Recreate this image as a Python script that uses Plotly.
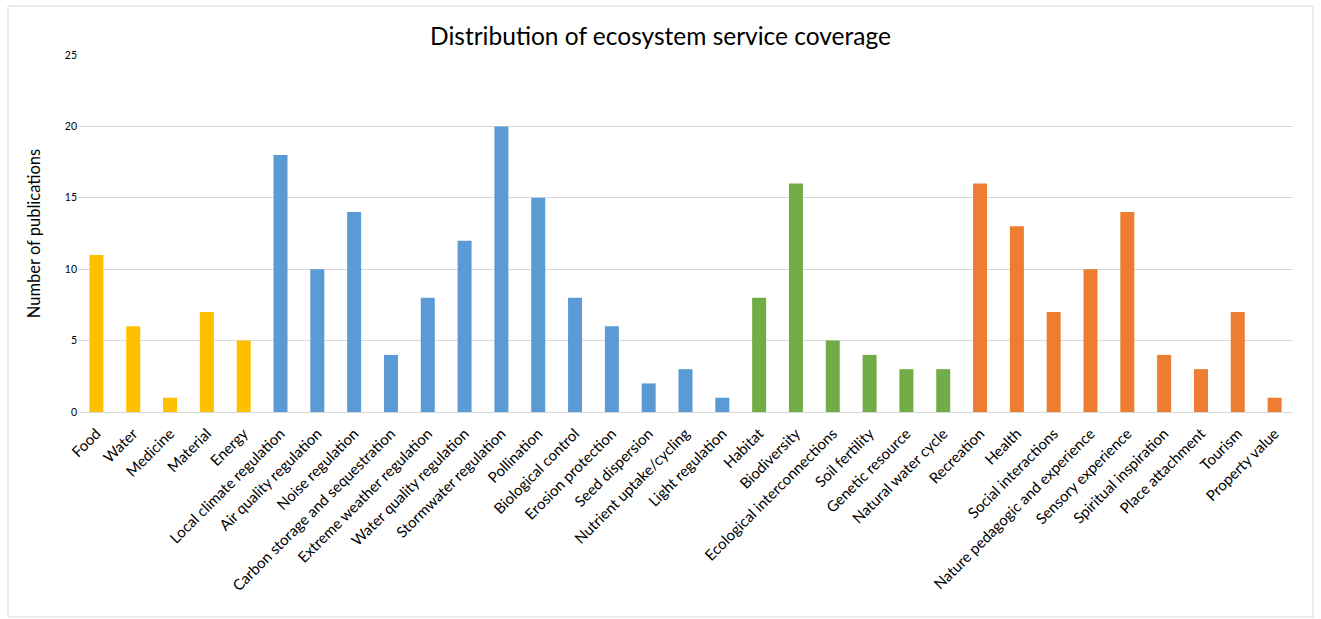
import plotly.graph_objects as go

provisioning = ["Food", "Water", "Medicine", "Material", "Energy"]
provisioning_vals = [11, 6, 1, 7, 5]

regulating = ["Local climate regulation", "Air quality regulation", "Noise regulation",
              "Carbon storage and sequestration", "Extreme weather regulation",
              "Water quality regulation", "Stormwater regulation", "Pollination",
              "Biological control", "Erosion protection", "Seed dispersion",
              "Nutrient uptake/cycling", "Light regulation"]
regulating_vals = [18, 10, 14, 4, 8, 12, 20, 15, 8, 6, 2, 3, 1]

supporting = ["Habitat", "Biodiversity", "Ecological interconnections", "Soil fertility",
              "Genetic resource", "Natural water cycle"]
supporting_vals = [8, 16, 5, 4, 3, 3]

cultural = ["Recreation", "Health", "Social interactions", "Nature pedagogic and experience",
            "Sensory experience", "Spiritual inspiration", "Place attachment", "Tourism",
            "Property value"]
cultural_vals = [16, 13, 7, 10, 14, 4, 3, 7, 1]

groups = [
    (provisioning, provisioning_vals, "#FFC000"),
    (regulating, regulating_vals, "#5B9BD5"),
    (supporting, supporting_vals, "#70AD47"),
    (cultural, cultural_vals, "#ED7D31"),
]

cats, vals, cols = [], [], []
for c, v, col in groups:
    cats += c
    vals += v
    cols += [col] * len(c)

fig = go.Figure(go.Bar(x=cats, y=vals, marker=dict(color=cols, line_width=0), showlegend=False))

W, H = 1321, 619
L, R, T, B = 78, 28, 55, 207
pw, ph = W - L - R, H - T - B

def px_to_paper_x(p):
    return (p - L) / pw

def px_to_paper_y(p):
    return (H - B - p) / ph

fig.update_layout(
    width=W, height=H,
    margin=dict(l=L, r=R, t=T, b=B),
    paper_bgcolor="white", plot_bgcolor="white",
    bargap=0.62,
    font=dict(family="Lato, Liberation Sans, sans-serif", color="#000000"),
    title=dict(text="Distribution of ecosystem service coverage", x=0.5, xanchor="center",
               y=1 - 36 / H, yanchor="middle", font=dict(size=24.5, color="#000000")),
    xaxis=dict(tickangle=-45, tickfont=dict(size=15), showgrid=False,
               showline=True, linecolor="#d9d9d9", linewidth=1, ticks="",
               ticklabelstandoff=6),
    yaxis=dict(range=[0, 25], dtick=5, tickfont=dict(size=10.5), showgrid=True,
               gridcolor="#d9d9d9", gridwidth=1, zeroline=False, showline=False,
               title=dict(text="Number of publications", font=dict(size=16.5), standoff=20)),
    shapes=[dict(type="rect", xref="paper", yref="paper",
                 x0=px_to_paper_x(8), x1=px_to_paper_x(1313),
                 y0=px_to_paper_y(617), y1=px_to_paper_y(6),
                 line=dict(color="#d9d9d9", width=1), fillcolor="rgba(0,0,0,0)", layer="below")],
)

fig.write_html("out.html")
